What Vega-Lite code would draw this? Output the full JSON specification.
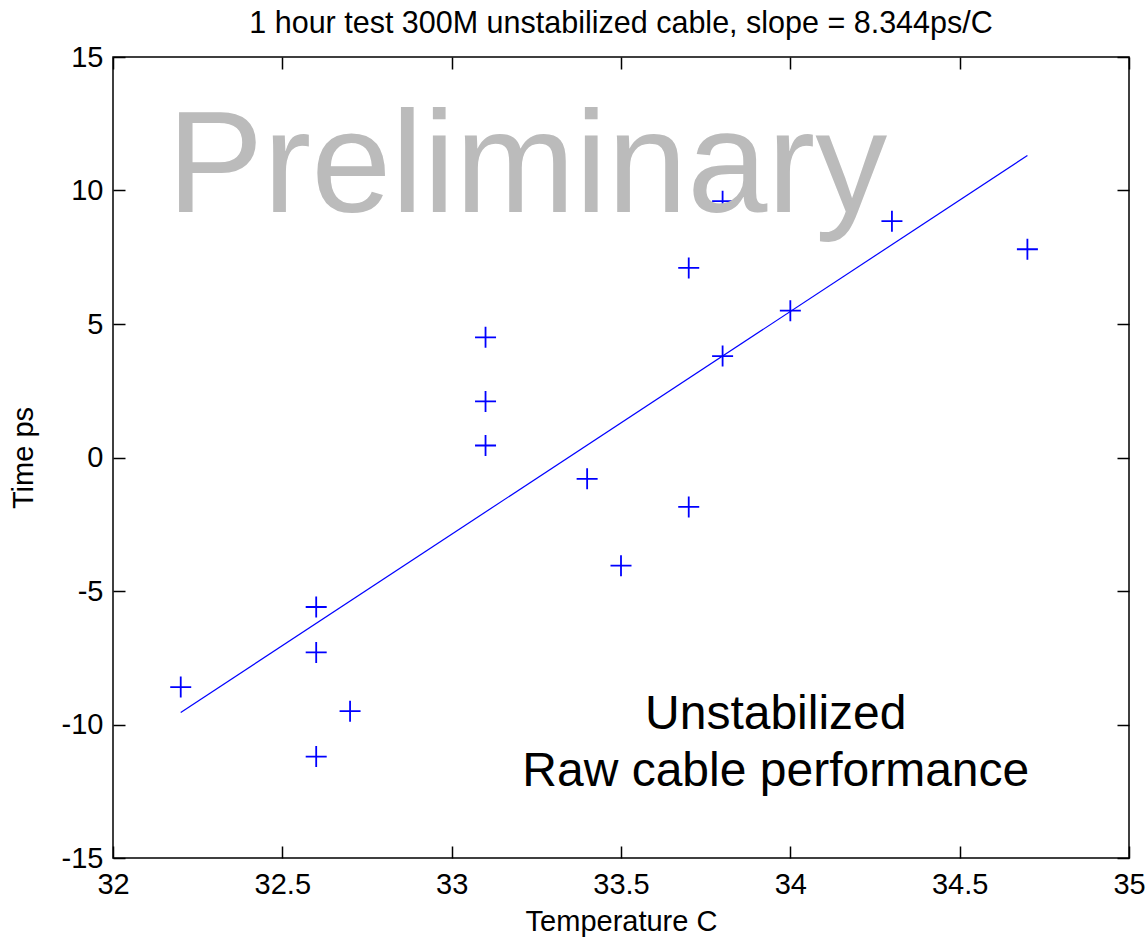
{
  "$schema": "https://vega.github.io/schema/vega-lite/v6.json",
  "width": 1016,
  "height": 801,
  "autosize": {"type": "none"},
  "padding": {"left": 113, "top": 57, "right": 17, "bottom": 83},
  "background": "white",
  "config": {
    "font": "Liberation Sans",
    "view": {"stroke": "black", "strokeWidth": 1.5},
    "axis": {"grid": false, "domain": false, "tickColor": "black", "tickWidth": 1.5, "labelColor": "black", "titleColor": "black", "labelFont": "Liberation Sans", "titleFont": "Liberation Sans", "labelFontSize": 29, "titleFontSize": 29, "titleFontWeight": "normal"}
  },
  "title": {"text": "1 hour test 300M unstabilized cable, slope = 8.344ps/C", "fontSize": 30.5, "fontWeight": "normal", "font": "Liberation Sans", "color": "black", "anchor": "middle", "offset": 4},
  "datasets": {
    "points": [
      {"t": 32.2, "ps": -8.6},
      {"t": 32.6, "ps": -5.6},
      {"t": 32.6, "ps": -7.3},
      {"t": 32.6, "ps": -11.2},
      {"t": 32.7, "ps": -9.5},
      {"t": 33.1, "ps": 4.5},
      {"t": 33.1, "ps": 2.1},
      {"t": 33.1, "ps": 0.45},
      {"t": 33.4, "ps": -0.8},
      {"t": 33.5, "ps": -4.05},
      {"t": 33.7, "ps": 7.1},
      {"t": 33.7, "ps": -1.85},
      {"t": 33.8, "ps": 9.6},
      {"t": 33.8, "ps": 3.8},
      {"t": 34.0, "ps": 5.5},
      {"t": 34.3, "ps": 8.85},
      {"t": 34.7, "ps": 7.8}
    ],
    "fit": [
      {"t": 32.2, "ps": -9.55},
      {"t": 34.7, "ps": 11.31}
    ],
    "watermark": [{"t": 32.16, "ps": 9.18, "label": "Preliminary"}],
    "note": [{"t": 33.957, "ps": -10.15, "label": "Unstabilized\nRaw cable performance"}]
  },
  "layer": [
    {
      "data": {"name": "points"},
      "mark": {"type": "point", "shape": "M-1,0L1,0M0,-1L0,1", "filled": false, "stroke": "#0000ff", "strokeWidth": 1.8, "size": 441, "opacity": 1},
      "encoding": {
        "x": {"field": "t", "type": "quantitative", "scale": {"domain": [32, 35], "nice": false, "zero": false},
          "axis": {"orient": "bottom", "title": "Temperature C", "values": [32, 32.5, 33, 33.5, 34, 34.5, 35], "labelExpr": "'' + datum.value", "tickSize": -12, "labelPadding": 24, "titlePadding": 8, "labelFlush": false, "labelOverlap": false}},
        "y": {"field": "ps", "type": "quantitative", "scale": {"domain": [-15, 15], "nice": false, "zero": false},
          "axis": {"orient": "left", "title": "Time ps", "values": [-15, -10, -5, 0, 5, 10, 15], "labelExpr": "'' + datum.value", "tickSize": -12, "labelPadding": 22, "titlePadding": 23, "labelFlush": false, "labelOverlap": false}}
      }
    },
    {
      "data": {"name": "fit"},
      "mark": {"type": "line", "color": "#0000ff", "strokeWidth": 1.2},
      "encoding": {
        "x": {"field": "t", "type": "quantitative", "axis": {"orient": "top", "labels": false, "title": null, "values": [32, 32.5, 33, 33.5, 34, 34.5, 35], "tickSize": -12}},
        "y": {"field": "ps", "type": "quantitative", "axis": {"orient": "right", "labels": false, "title": null, "values": [-15, -10, -5, 0, 5, 10, 15], "tickSize": -12}}
      }
    },
    {
      "data": {"name": "watermark"},
      "mark": {"type": "text", "align": "left", "baseline": "alphabetic", "fontSize": 144, "font": "Liberation Sans", "color": "#bbbbbb"},
      "encoding": {
        "x": {"field": "t", "type": "quantitative", "axis": null},
        "y": {"field": "ps", "type": "quantitative", "axis": null},
        "text": {"field": "label"}
      }
    },
    {
      "data": {"name": "note"},
      "mark": {"type": "text", "align": "center", "baseline": "alphabetic", "fontSize": 48, "font": "Liberation Sans", "color": "black", "lineBreak": "\n", "lineHeight": 57},
      "encoding": {
        "x": {"field": "t", "type": "quantitative", "axis": null},
        "y": {"field": "ps", "type": "quantitative", "axis": null},
        "text": {"field": "label"}
      }
    }
  ],
  "resolve": {"axis": {"x": "independent", "y": "independent"}}
}
